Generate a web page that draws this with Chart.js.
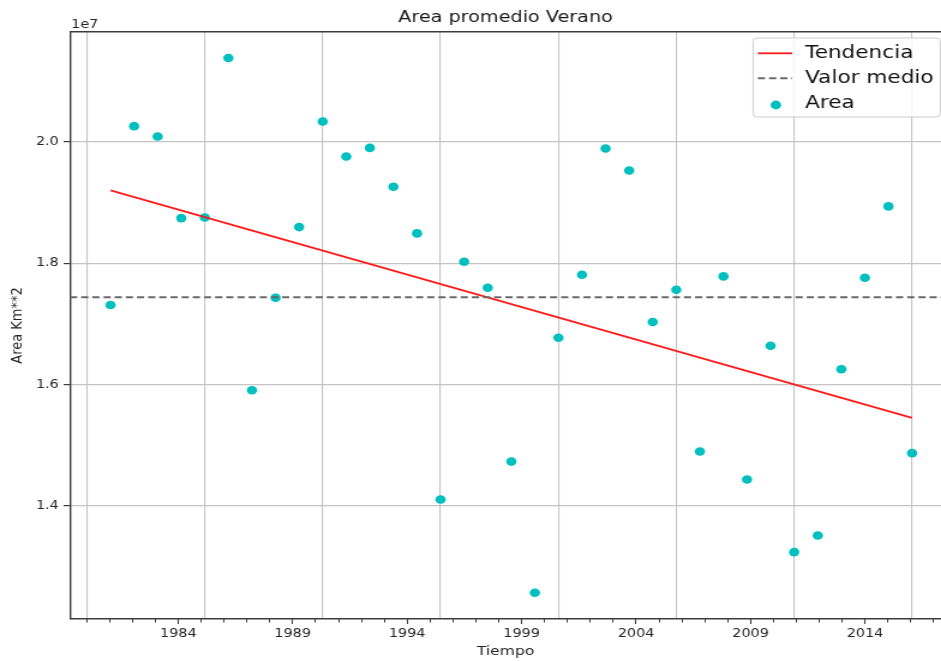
<!DOCTYPE html>
<html>
<head>
<meta charset="utf-8">
<script src="https://cdn.jsdelivr.net/npm/chart.js@4.4.0/dist/chart.umd.min.js"></script>
<style>
  html, body { margin: 0; padding: 0; background: #fff; overflow: hidden; }
  /* the reference is stretched sideways, so the canvas is too */
  #chart { transform: scaleX(1.2003); transform-origin: 0 0; }
</style>
</head>
<body>
<canvas id="chart" width="784" height="661"></canvas>
<script>
const years = [1981, 1982, 1983, 1984, 1985, 1986, 1987, 1988, 1989, 1990,
               1991, 1992, 1993, 1994, 1995, 1996, 1997, 1998, 1999, 2000,
               2001, 2002, 2003, 2004, 2005, 2006, 2007, 2008, 2009, 2010,
               2011, 2012, 2013, 2014, 2015];
const areaValues = [17310000, 20259000, 20089000, 18743000, 18754000, 21384000, 15904000, 17430000, 18595000, 20336000,
                    19760000, 19901000, 19259000, 18491000, 14102000, 18023000, 17595000, 14728000, 12565000, 16771000,
                    17809000, 19891000, 19529000, 17030000, 17562000, 14893000, 17782000, 14432000, 16639000, 13235000,
                    13509000, 16250000, 17759000, 18936000, 14867000];
const trendYears = [1981, 2015];
const trendValues = [19200000, 15448000];
const meanValue = 17437000;

const gridYears = [1980, 1985, 1990, 1995, 2000, 2005, 2010, 2015];
const labelYears = [1984, 1989, 1994, 1999, 2004, 2009, 2014];
const yTicks = [14000000, 16000000, 18000000, 20000000];

// axis ranges
const xMin = 1979.28, xMax = 2016.23;
const labMin = 1979.27, labMax = 2017.32;
const yMin = 12132000, yMax = 21812000;

Chart.defaults.font.family = 'DejaVu Sans';
Chart.defaults.color = '#262626';

const spine = '#3c3c3c';
const gridColor = '#c4c4c4';

const legendBox = {
    id: 'legendBox',
    afterDraw(chart) {
        const ctx = chart.ctx;
        const a = chart.chartArea;
        // "1e7" offset text
        ctx.save();
        ctx.font = '12px "DejaVu Sans"';
        ctx.fillStyle = '#262626';
        ctx.textBaseline = 'alphabetic';
        ctx.fillText('1e7', a.left + 1, a.top - 4);

        const x0 = a.right - 156.6, y0 = a.top + 6, w = 156, h = 79, r = 3.5;
        ctx.beginPath();
        ctx.moveTo(x0 + r, y0);
        ctx.arcTo(x0 + w, y0, x0 + w, y0 + h, r);
        ctx.arcTo(x0 + w, y0 + h, x0, y0 + h, r);
        ctx.arcTo(x0, y0 + h, x0, y0, r);
        ctx.arcTo(x0, y0, x0 + w, y0, r);
        ctx.closePath();
        ctx.fillStyle = 'rgba(255,255,255,0.8)';
        ctx.fill();
        ctx.strokeStyle = '#cccccc';
        ctx.lineWidth = 1;
        ctx.stroke();

        ctx.font = '18px "DejaVu Sans"';
        chart.data.datasets.forEach((ds, i) => {
            const base = y0 + 20.3 + i * 25;
            if (ds.type === 'line') {
                ctx.beginPath();
                ctx.setLineDash(ds.borderDash || []);
                ctx.strokeStyle = ds.borderColor;
                ctx.lineWidth = ds.borderWidth;
                ctx.moveTo(x0 + 4, base - 5);
                ctx.lineTo(x0 + 32.6, base - 5);
                ctx.stroke();
                ctx.setLineDash([]);
            } else {
                ctx.beginPath();
                ctx.fillStyle = ds.pointBackgroundColor;
                ctx.arc(x0 + 19, base - 3.3, 4.4, 0, 2 * Math.PI);
                ctx.fill();
            }
            ctx.fillStyle = '#111';
            ctx.fillText(ds.label, x0 + 43.3, base);
        });
        ctx.restore();
    }
};

const ctx = document.getElementById('chart').getContext('2d');

const data = {
    datasets: [
        {
            type: 'line',
            label: 'Tendencia',
            data: trendYears.map((t, i) => ({x: t, y: trendValues[i]})),
            borderColor: '#ff1a1a',
            borderWidth: 1.8,
            pointRadius: 0,
            order: 2
        },
        {
            type: 'line',
            label: 'Valor medio',
            data: [{x: xMin, y: meanValue}, {x: xMax, y: meanValue}],
            borderColor: '#686868',
            borderWidth: 2,
            borderDash: [6, 3.3],
            pointRadius: 0,
            order: 1
        },
        {
            type: 'scatter',
            label: 'Area',
            data: years.map((t, i) => ({x: t, y: areaValues[i]})),
            pointRadius: 4.3,
            pointBackgroundColor: '#00bfbf',
            pointBorderWidth: 0,
            order: 3
        }
    ]
};

const config = {
    type: 'scatter',
    data: data,
    options: {
        responsive: false,
        animation: false,
        devicePixelRatio: 1,
        events: [],
        layout: { padding: 0, autoPadding: false },
        plugins: {
            legend: { display: false },
            tooltip: { enabled: false },
            title: {
                display: true,
                text: 'Area promedio Verano',
                fullSize: false,
                color: '#1a1a1a',
                font: { size: 16, weight: 'normal' },
                padding: { top: 8, bottom: 4.8 }
            }
        },
        scales: {
            x: {
                type: 'linear', position: 'bottom', weight: 0,
                min: xMin, max: xMax,
                afterBuildTicks: ax => { ax.ticks = gridYears.map(v => ({value: v})); },
                ticks: { display: false },
                grid: { color: gridColor, lineWidth: 1.1, drawTicks: false },
                border: { display: true, color: spine, width: 1.5 }
            },
            xMinor: {
                type: 'linear', position: 'bottom', weight: 1,
                min: labMin, max: labMax,
                afterBuildTicks: ax => {
                    const t = [];
                    for (let v = Math.ceil(labMin); v <= labMax; v++) {
                        if (!labelYears.includes(v)) t.push({value: v});
                    }
                    ax.ticks = t;
                },
                afterFit: ax => { ax.height = 0; },
                ticks: { display: false },
                grid: { drawOnChartArea: false, tickLength: 3.5, tickColor: spine, tickWidth: 1 },
                border: { display: false }
            },
            xLab: {
                type: 'linear', position: 'bottom', weight: 2,
                min: labMin, max: labMax,
                afterBuildTicks: ax => { ax.ticks = labelYears.map(v => ({value: v})); },
                afterFit: ax => { ax.height = 42; },
                ticks: { autoSkip: false, maxRotation: 0, padding: 3, font: { size: 12 }, callback: v => String(v) },
                grid: { drawOnChartArea: false, tickLength: 5, tickColor: spine, tickWidth: 1.1 },
                border: { display: false },
                title: { display: true, text: 'Tiempo', font: { size: 13 }, padding: { top: 2, bottom: 2 } }
            },
            xTop: {
                type: 'linear', position: 'top',
                min: xMin, max: xMax,
                ticks: { display: false },
                grid: { drawOnChartArea: false, drawTicks: false },
                border: { display: true, color: spine, width: 1.5 }
            },
            y: {
                type: 'linear', position: 'left',
                min: yMin, max: yMax,
                afterBuildTicks: ax => { ax.ticks = yTicks.map(v => ({value: v})); },
                afterFit: ax => { ax.width = 58.3; },
                ticks: { padding: 4, font: { size: 12 }, callback: v => (v / 1e7).toFixed(1) },
                grid: { color: gridColor, lineWidth: 1.2, tickLength: 5.3, tickColor: spine, tickWidth: 1.2 },
                border: { display: true, color: spine, width: 1.4 },
                title: { display: true, text: 'Area Km**2', font: { size: 13 }, padding: { top: 7, bottom: 0 } }
            }
        }
    },
    plugins: [legendBox]
};

const myChart = new Chart(ctx, config);
</script>
</body>
</html>
